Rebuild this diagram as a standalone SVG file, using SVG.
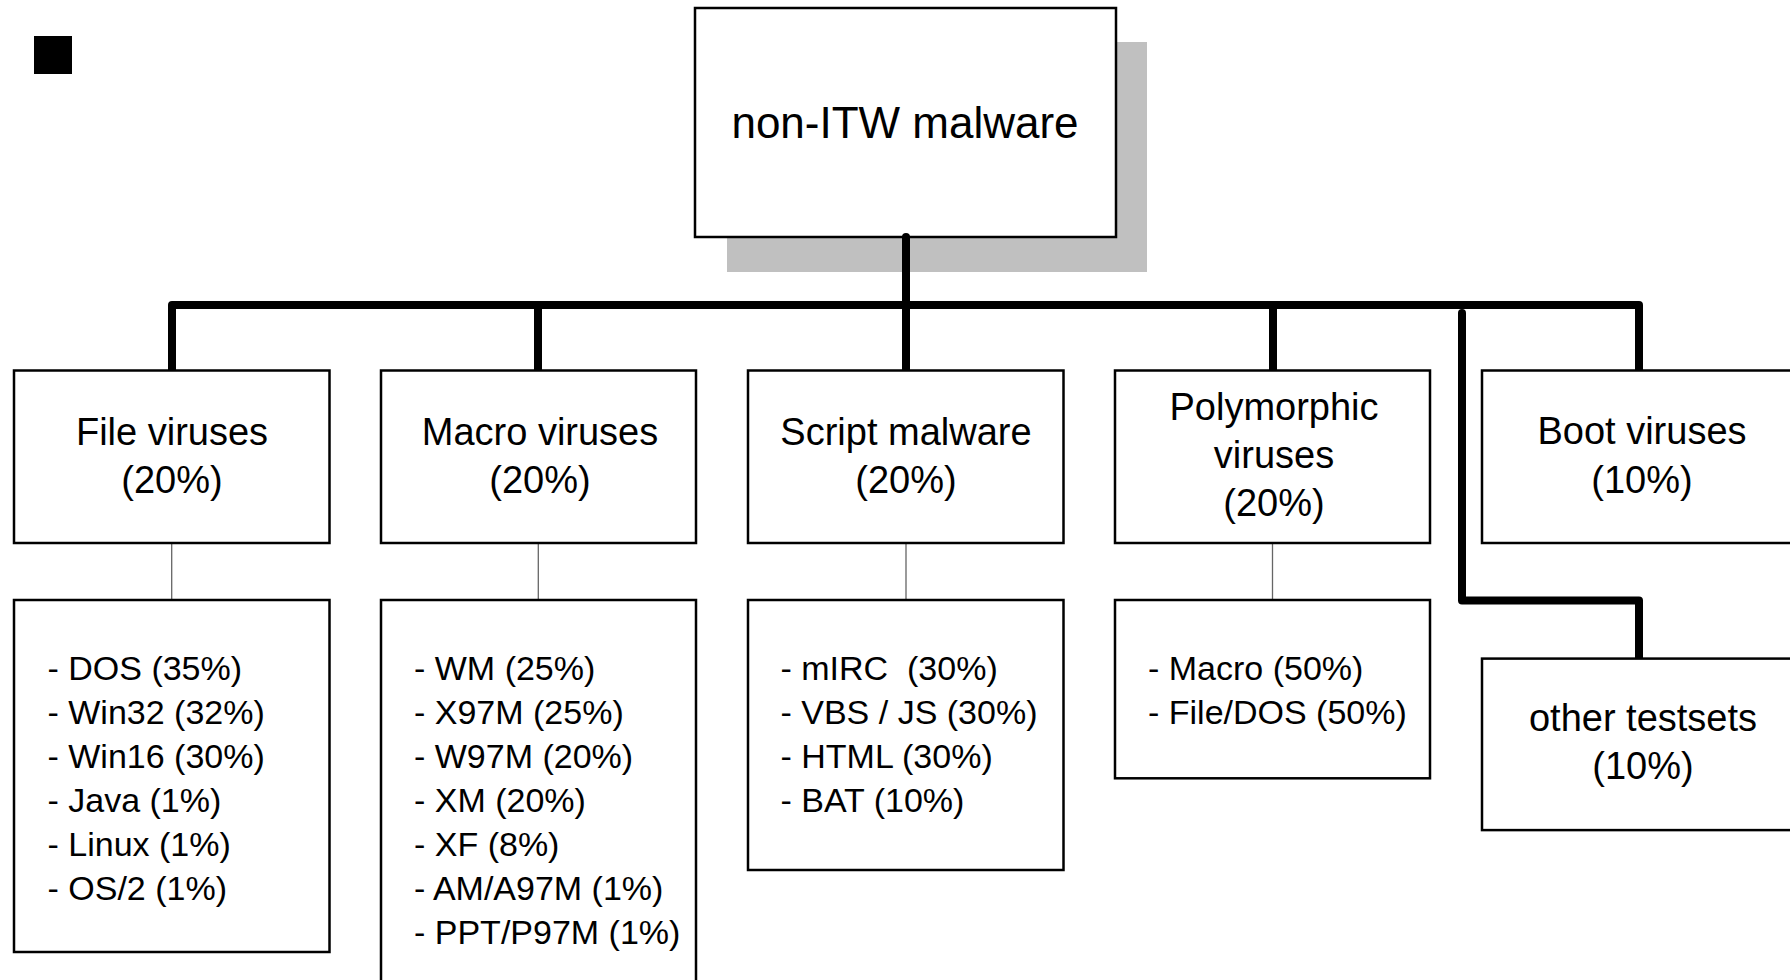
<svg xmlns="http://www.w3.org/2000/svg" width="1790" height="980" viewBox="0 0 1790 980">
<style>
.box{fill:#fff;stroke:#000;stroke-width:2.5}
.thick{fill:none;stroke:#000;stroke-width:8;stroke-linejoin:round;stroke-linecap:round}
.thin{fill:none;stroke:#666;stroke-width:1.3}
text{font-family:"Liberation Sans",Arial,sans-serif;fill:#000}
.h{font-size:38px;text-anchor:middle}
.root{font-size:44px;text-anchor:middle}
.l{font-size:34px}
</style>
<rect x="34" y="36" width="38" height="38" fill="#000"/>
<g id="root">
<rect x="727" y="42" width="420" height="230" fill="#c0c0c0"/>
<rect class="box" x="695" y="8" width="421" height="229"/>
<text class="root" x="905" y="138">non-ITW malware</text>
</g>
<g id="connectors">
<path class="thick" d="M172,372 L172,305 L1639,305 L1639,372"/>
<path class="thick" d="M906,237 L906,372"/>
<path class="thick" d="M538,305 L538,372"/>
<path class="thick" d="M1273,305 L1273,372"/>
<path class="thick" d="M1462,313 L1462,600.5 L1639,600.5 L1639,660"/>
<path class="thin" d="M171.7,543 V600 M538.3,543 V600 M906,543 V600 M1272.5,543 V600"/>
</g>
<g id="file">
<rect class="box" x="14" y="370.5" width="315.5" height="172.5"/>
<text class="h" x="172" y="445">File viruses</text>
<text class="h" x="172" y="493">(20%)</text>
</g>
<g id="file-list">
<rect class="box" x="14" y="600" width="315.5" height="352"/>
<text class="l" x="47.5" y="680">- DOS (35%)</text>
<text class="l" x="47.5" y="724">- Win32 (32%)</text>
<text class="l" x="47.5" y="768">- Win16 (30%)</text>
<text class="l" x="47.5" y="812">- Java (1%)</text>
<text class="l" x="47.5" y="856">- Linux (1%)</text>
<text class="l" x="47.5" y="900">- OS/2 (1%)</text>
</g>
<g id="macro">
<rect class="box" x="381" y="370.5" width="315" height="172.5"/>
<text class="h" x="540" y="445">Macro viruses</text>
<text class="h" x="540" y="493">(20%)</text>
</g>
<g id="macro-list">
<rect class="box" x="381" y="600" width="315" height="420"/>
<text class="l" x="414" y="680">- WM (25%)</text>
<text class="l" x="414" y="724">- X97M (25%)</text>
<text class="l" x="414" y="768">- W97M (20%)</text>
<text class="l" x="414" y="812">- XM (20%)</text>
<text class="l" x="414" y="856">- XF (8%)</text>
<text class="l" x="414" y="900">- AM/A97M (1%)</text>
<text class="l" x="414" y="944">- PPT/P97M (1%)</text>
</g>
<g id="script">
<rect class="box" x="748" y="370.5" width="315.5" height="172.5"/>
<text class="h" x="906" y="445">Script malware</text>
<text class="h" x="906" y="493">(20%)</text>
</g>
<g id="script-list">
<rect class="box" x="748" y="600" width="315.5" height="270"/>
<text class="l" x="780.5" y="680" xml:space="preserve">- mIRC  (30%)</text>
<text class="l" x="780.5" y="724">- VBS / JS (30%)</text>
<text class="l" x="780.5" y="768">- HTML (30%)</text>
<text class="l" x="780.5" y="812">- BAT (10%)</text>
</g>
<g id="poly">
<rect class="box" x="1115" y="370.5" width="315" height="172.5"/>
<text class="h" x="1274" y="420">Polymorphic</text>
<text class="h" x="1274" y="467.5">viruses</text>
<text class="h" x="1274" y="515.5">(20%)</text>
</g>
<g id="poly-list">
<rect class="box" x="1115" y="600" width="315" height="178.3"/>
<text class="l" x="1148" y="680">- Macro (50%)</text>
<text class="l" x="1148" y="724">- File/DOS (50%)</text>
</g>
<g id="boot">
<rect class="box" x="1482" y="370.5" width="315" height="172.5"/>
<text class="h" x="1642" y="444.3">Boot viruses</text>
<text class="h" x="1642" y="492.5">(10%)</text>
</g>
<g id="other">
<rect class="box" x="1482" y="658.6" width="315" height="171.5"/>
<text class="h" x="1643" y="730.7">other testsets</text>
<text class="h" x="1643" y="779">(10%)</text>
</g>
</svg>
